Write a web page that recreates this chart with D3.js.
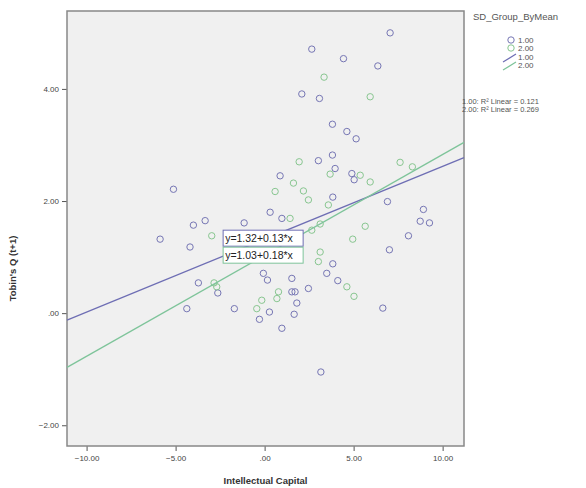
<!DOCTYPE html>
<html>
<head>
<meta charset="utf-8">
<script src="https://cdn.jsdelivr.net/npm/d3@7"></script>
<style>
  body { margin: 0; background: #fff; }
  text { font-family: Arial, "Liberation Sans", sans-serif; }
</style>
</head>
<body>
<div id="chart"></div>
<script>
// group 1.00 points [Intellectual Capital, Tobin's Q (t+1)]
const group1 = [
  [7.05, 5.00], [2.65, 4.71], [4.43, 4.54], [6.36, 4.41], [2.09, 3.91],
  [3.08, 3.83], [3.81, 3.37], [4.62, 3.24], [5.14, 3.11], [3.02, 2.72],
  [3.81, 2.82], [3.96, 2.58], [0.87, 2.45], [4.90, 2.49], [5.03, 2.38],
  [3.83, 2.07], [0.31, 1.80], [0.97, 1.69], [6.90, 1.99], [8.92, 1.85],
  [8.74, 1.64], [9.26, 1.61], [8.08, 1.38], [7.01, 1.13], [3.83, 0.88],
  [3.49, 0.71], [4.11, 0.58], [6.64, 0.09], [-0.07, 0.71], [0.16, 0.59],
  [1.53, 0.62], [1.53, 0.38], [1.71, 0.38], [2.46, 0.44], [1.81, 0.18],
  [0.27, 0.02], [1.66, -0.02], [-0.29, -0.11], [0.97, -0.27], [3.16, -1.05],
  [-5.12, 2.21], [-4.00, 1.57], [-3.34, 1.65], [-5.87, 1.32], [-1.15, 1.61],
  [-4.19, 1.18], [-3.72, 0.54], [-2.63, 0.36], [-4.37, 0.08], [-1.70, 0.08]
];
// group 2.00 points
const group2 = [
  [3.34, 4.21], [5.93, 3.86], [1.94, 2.70], [3.68, 2.48], [5.37, 2.46],
  [5.93, 2.34], [7.61, 2.69], [8.30, 2.61], [1.62, 2.32], [0.59, 2.17],
  [2.18, 2.18], [2.46, 2.02], [3.58, 1.93], [1.43, 1.69], [5.65, 1.55],
  [4.95, 1.32], [4.62, 0.47], [5.02, 0.30], [3.12, 1.09], [3.02, 0.92],
  [0.78, 0.38], [0.69, 0.26], [-0.16, 0.23], [-0.44, 0.08], [-2.97, 1.38],
  [-2.84, 0.54], [-2.69, 0.47], [2.65, 1.48], [3.12, 1.59]
];

const groups = ["1.00", "2.00"];
const intercepts = [1.32, 1.03];
const slopes = [0.13, 0.18];
const rSquared = ["0.121", "0.269"];
const xTicks = [-10, -5, 0, 5, 10];
const yTicks = [-2, 0, 2, 4];

const W = 586, H = 488;
const margin = {top: 11, right: 122, bottom: 42, left: 67};
const colors = ["#7676b4", "#88c690"];
const lineColors = ["#6e6eb4", "#7ec49a"];

const svg = d3.select("#chart").append("svg")
  .attr("width", W).attr("height", H);

const x = d3.scaleLinear().domain([-11.1, 11.2]).range([margin.left, W - margin.right]);
const y = d3.scaleLinear().domain([-2.37, 5.39]).range([H - margin.bottom, margin.top]);

const fmt = v => v === 0 ? ".00" : d3.format(".2f")(v);

// plot background
svg.append("rect")
  .attr("x", x.range()[0]).attr("y", y.range()[1])
  .attr("width", x.range()[1] - x.range()[0])
  .attr("height", y.range()[0] - y.range()[1])
  .attr("fill", "#f0f0f0");

// axes
const axX = svg.append("g")
  .attr("transform", `translate(0,${y.range()[0]})`)
  .call(d3.axisBottom(x).tickValues(xTicks).tickFormat(fmt).tickSize(5).tickPadding(4));
const axY = svg.append("g")
  .attr("transform", `translate(${x.range()[0]},0)`)
  .call(d3.axisLeft(y).tickValues(yTicks).tickFormat(fmt).tickSize(5).tickPadding(3));
[axX, axY].forEach(g => {
  g.select(".domain").remove();
  g.selectAll("line").attr("stroke", "#555");
  g.selectAll("text").attr("fill", "#444").style("font-size", "8px");
});

// frame
svg.append("rect")
  .attr("x", x.range()[0]).attr("y", y.range()[1])
  .attr("width", x.range()[1] - x.range()[0])
  .attr("height", y.range()[0] - y.range()[1])
  .attr("fill", "none").attr("stroke", "#888").attr("stroke-width", 1.5);

// points
[group1, group2].forEach((pts, i) => {
  svg.append("g").selectAll("circle")
    .data(pts).enter().append("circle")
    .attr("cx", d => x(d[0])).attr("cy", d => y(d[1]))
    .attr("r", 3.2)
    .attr("fill", "none")
    .attr("stroke", colors[i])
    .attr("stroke-width", 1);
});

// fit lines
const dom = x.domain();
groups.forEach((g, i) => {
  const f = v => intercepts[i] + slopes[i] * v;
  svg.append("line")
    .attr("x1", x(dom[0])).attr("y1", y(f(dom[0])))
    .attr("x2", x(dom[1])).attr("y2", y(f(dom[1])))
    .attr("stroke", lineColors[i]).attr("stroke-width", 1.3);
});

// equation labels
groups.forEach((g, i) => {
  const bx = x(-2.33), by = y(1.48) + i * 17;
  svg.append("rect")
    .attr("x", bx).attr("y", by).attr("width", 80).attr("height", 16)
    .attr("fill", "#fff").attr("stroke", lineColors[i]).attr("stroke-width", 1);
  svg.append("text")
    .attr("x", bx + 2).attr("y", by + 12)
    .style("font-size", "10.5px").attr("fill", "#222")
    .text(`y=${intercepts[i].toFixed(2)}+${slopes[i].toFixed(2)}*x`);
});

// legend
const lg = svg.append("g");
lg.append("text").attr("x", 473).attr("y", 20)
  .style("font-size", "9.5px").attr("fill", "#555").text("SD_Group_ByMean");
groups.forEach((g, i) => {
  lg.append("circle").attr("cx", 511).attr("cy", 40 + i * 8).attr("r", 3.2)
    .attr("fill", "none").attr("stroke", colors[i]);
  lg.append("text").attr("x", 518).attr("y", 43 + i * 8)
    .style("font-size", "8px").attr("fill", "#555").text(g);
  lg.append("line").attr("x1", 503).attr("y1", 62 + i * 8).attr("x2", 516).attr("y2", 54 + i * 8)
    .attr("stroke", lineColors[i]).attr("stroke-width", 1.3);
  lg.append("text").attr("x", 518).attr("y", 60 + i * 8)
    .style("font-size", "8px").attr("fill", "#555").text(g);
  lg.append("text").attr("x", 462).attr("y", 104 + i * 8)
    .style("font-size", "7.5px").attr("fill", "#555")
    .text(`${g}: R\u00B2 Linear = ${rSquared[i]}`);
});

// axis titles
svg.append("text")
  .attr("x", (x.range()[0] + x.range()[1]) / 2).attr("y", 484)
  .attr("text-anchor", "middle")
  .style("font-size", "9.5px").style("font-weight", "bold").attr("fill", "#333")
  .text("Intellectual Capital");
svg.append("text")
  .attr("transform", `translate(16,${(y.range()[0] + y.range()[1]) / 2 + 40}) rotate(-90)`)
  .attr("text-anchor", "middle")
  .style("font-size", "9.5px").style("font-weight", "bold").attr("fill", "#333")
  .text("Tobin's Q (t+1)");
</script>
</body>
</html>
